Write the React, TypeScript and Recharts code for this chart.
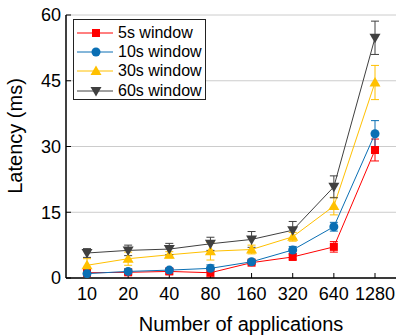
import React from 'react';
import { LineChart, Line, XAxis, YAxis, CartesianGrid, ErrorBar, Label } from 'recharts';

const apps = ['10', '20', '40', '80', '160', '320', '640', '1280'];

const w5 = [1.2, 1.3, 1.5, 1.2, 3.5, 4.8, 7.1, 29.2];
const w5Err = [0.8, 0.5, 0.6, 1.0, 0.4, 0.5, 1.2, 2.5];
const w10 = [1.0, 1.5, 1.8, 2.2, 3.7, 6.4, 11.7, 32.9];
const w10Err = [0.5, 0.5, 0.4, 0.8, 0.4, 0.8, 1.0, 3.0];
const w30 = [2.9, 4.4, 5.3, 6.1, 6.5, 9.4, 16.4, 44.6];
const w30Err = [1.5, 1.5, 0.7, 2.0, 1.0, 1.0, 2.0, 3.9];
const w60 = [5.7, 6.3, 6.6, 7.8, 8.8, 10.9, 20.8, 54.8];
const w60Err = [1.0, 1.2, 1.3, 1.5, 1.8, 2.0, 2.5, 3.8];

const yTicks = [0, 15, 30, 45, 60];

const FONT = '"Liberation Sans", Arial, Helvetica, sans-serif';

const series = [
  { key: 'w5', err: 'e5', name: '5s window', color: '#ff0000', shape: 'square' },
  { key: 'w10', err: 'e10', name: '10s window', color: '#0a6fb4', shape: 'circle' },
  { key: 'w30', err: 'e30', name: '30s window', color: '#ffc000', shape: 'triangle' },
  { key: 'w60', err: 'e60', name: '60s window', color: '#404040', shape: 'down' },
];

const data = apps.map((a, i) => ({
  name: a,
  w5: w5[i], e5: w5Err[i],
  w10: w10[i], e10: w10Err[i],
  w30: w30[i], e30: w30Err[i],
  w60: w60[i], e60: w60Err[i],
}));

function Marker({ cx, cy, shape, color }: { cx: number; cy: number; shape: string; color: string }) {
  if (cx == null || cy == null) return null;
  if (shape === 'square') return <rect x={cx - 4} y={cy - 4} width={8} height={8} fill={color} />;
  if (shape === 'circle') return <circle cx={cx} cy={cy} r={4.5} fill={color} />;
  if (shape === 'triangle')
    return <path d={`M${cx},${cy - 5.5}L${cx + 5.5},${cy + 4}L${cx - 5.5},${cy + 4}Z`} fill={color} />;
  return <path d={`M${cx},${cy + 5.5}L${cx + 5.5},${cy - 4}L${cx - 5.5},${cy - 4}Z`} fill={color} />;
}

function ChartLegend() {
  return (
    <div
      style={{
        position: 'absolute',
        left: 73,
        top: 19,
        width: 133,
        height: 81,
        border: '1px solid #222',
        background: '#fff',
        paddingTop: 3,
        boxSizing: 'border-box',
        fontFamily: FONT,
        fontSize: 16,
      }}
    >
      {series.map((s) => (
        <div key={s.key} style={{ display: 'flex', alignItems: 'center', height: 19.4 }}>
          <svg width={44} height={14} style={{ flex: 'none' }}>
            <line x1={3} y1={7} x2={39} y2={7} stroke={s.color} strokeWidth={1} />
            <Marker cx={22} cy={7} shape={s.shape} color={s.color} />
          </svg>
          <span style={{ color: '#000', lineHeight: '16px' }}>{s.name}</span>
        </div>
      ))}
    </div>
  );
}

export default function App() {
  return (
    <div style={{ position: 'absolute', left: 0, top: 0, width: 399, height: 336 }}>
      <LineChart width={399} height={336} data={data} margin={{ top: 15, right: 3, bottom: 0, left: 0 }}>
        <CartesianGrid vertical={false} stroke="#cccccc" />
        <XAxis
          dataKey="name"
          height={58}
          padding={{ left: 21, right: 21 }}
          tickSize={-5}
          tickMargin={14}
          tick={{ fill: '#000', fontSize: 18, fontFamily: FONT }}
          tickLine={{ stroke: '#000', strokeWidth: 1 }}
          axisLine={{ stroke: '#000', strokeWidth: 1.5 }}
          interval={0}
        >
          <Label
            content={() => (
              <text x={241} y={331} textAnchor="middle" fontSize={20} fontFamily={FONT} fill="#000">
                Number of applications
              </text>
            )}
          />
        </XAxis>
        <XAxis
          xAxisId="top"
          orientation="top"
          dataKey="name"
          height={0}
          tick={false}
          tickLine={false}
          axisLine={{ stroke: '#000', strokeWidth: 1.5 }}
        />
        <YAxis
          width={66}
          domain={[0, 60]}
          ticks={yTicks}
          allowDataOverflow
          tickSize={-5}
          tickMargin={10}
          tick={{ fill: '#000', fontSize: 18, fontFamily: FONT }}
          tickLine={{ stroke: '#000', strokeWidth: 1 }}
          axisLine={{ stroke: '#000', strokeWidth: 1.5 }}
        >
          <Label
            content={() => (
              <text
                x={22}
                y={136}
                transform="rotate(-90 22 136)"
                textAnchor="middle"
                fontSize={20}
                fontFamily={FONT}
                fill="#000"
              >
                Latency (ms)
              </text>
            )}
          />
        </YAxis>
        <YAxis
          yAxisId="right"
          orientation="right"
          width={0}
          domain={[0, 60]}
          tick={false}
          tickLine={false}
          axisLine={{ stroke: '#000', strokeWidth: 1.5 }}
        />
        {series.map((s) => (
          <Line
            key={s.key}
            dataKey={s.key}
            name={s.name}
            stroke={s.color}
            strokeWidth={1}
            isAnimationActive={false}
            dot={(p: any) => <Marker key={`${s.key}-${p.index}`} cx={p.cx} cy={p.cy} shape={s.shape} color={s.color} />}
            activeDot={false}
          >
            <ErrorBar dataKey={s.err} width={4} stroke={s.color} strokeWidth={1} direction="y" />
          </Line>
        ))}
      </LineChart>
      <ChartLegend />
    </div>
  );
}
